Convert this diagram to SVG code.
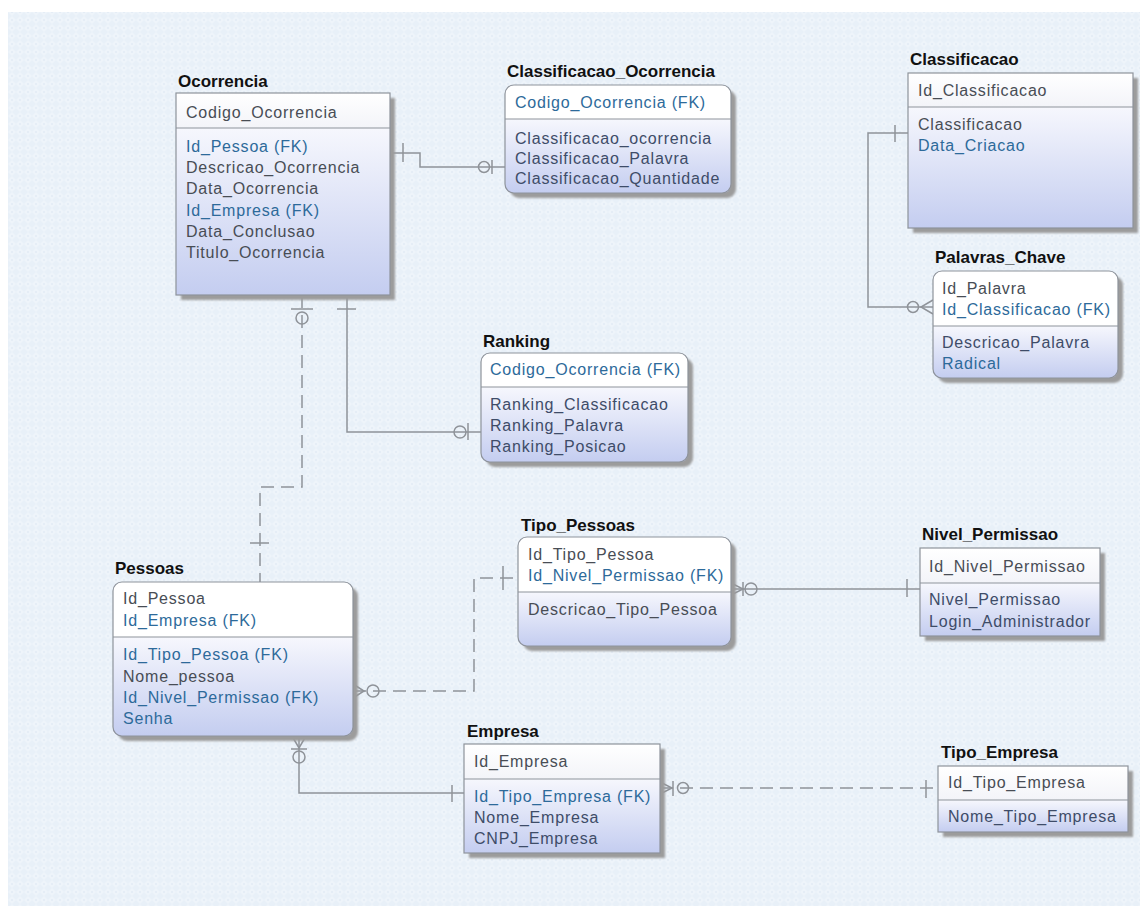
<svg xmlns="http://www.w3.org/2000/svg" width="1140" height="906" viewBox="0 0 1140 906">
  <defs>
    <pattern id="grid" width="8" height="8" patternUnits="userSpaceOnUse">
      <rect width="8" height="8" fill="#e8f0f8"/>
      <path d="M4 0 L8 4 L4 8 L0 4 Z" fill="#eef4fa"/>
      <circle cx="4" cy="4" r="1" fill="#e2ebf5"/>
    </pattern>
    <linearGradient id="body" x1="0" y1="0" x2="0" y2="1">
      <stop offset="0" stop-color="#f6f7fd"/>
      <stop offset="1" stop-color="#c4cdf0"/>
    </linearGradient>
    <linearGradient id="head" x1="0" y1="0" x2="0" y2="1">
      <stop offset="0" stop-color="#ffffff"/>
      <stop offset="1" stop-color="#f3f4f9"/>
    </linearGradient>
    <filter id="soft" x="-5%" y="-5%" width="110%" height="110%">
      <feGaussianBlur stdDeviation="1.2"/>
    </filter>
  </defs>
  <style>
    .title { font-family: "Liberation Sans", Arial, sans-serif; font-size: 17px; font-weight: bold; fill: #111111; }
    .attr { font-family: "Liberation Sans", Arial, sans-serif; font-size: 16px; letter-spacing: 0.8px; fill: #484d55; }
    .fk { fill: #2d6a9a; }
    .slate { fill: #3e4c68; }
    .shadow { fill: #9c9c9c; filter: url(#soft); }
    .edge { fill: none; stroke: #8e939b; stroke-width: 1.2; }
    .sep { stroke: #8e939b; stroke-width: 1.2; }
    .conn { fill: none; stroke: #8f9399; stroke-width: 1.5; }
    .dash { stroke-dasharray: 13 7; }
    .sym { fill: none; stroke: #8f9399; stroke-width: 1.5; }
  </style>

  <!-- canvas -->
  <rect width="1140" height="906" fill="#ffffff"/>
  <rect x="8" y="12" width="1132" height="894" fill="url(#grid)"/>

  <!-- relationships -->
  <g id="connectors">
    <!-- Ocorrencia - Classificacao_Ocorrencia -->
    <path class="conn" d="M390 153 H420 V167 H505"/>
    <path class="sym" d="M403 143 V162"/>
    <circle class="sym" cx="484" cy="167" r="5.5"/>
    <path class="sym" d="M492 160 V174"/>

    <!-- Classificacao - Palavras_Chave -->
    <path class="conn" d="M908 133 H868 V307 H933"/>
    <path class="sym" d="M895 125 V142"/>
    <circle class="sym" cx="913" cy="307" r="5.5"/>
    <path class="sym" d="M933 300 L921 307 L933 314"/>

    <!-- Ocorrencia - Ranking -->
    <path class="conn" d="M347 295 V432 H481"/>
    <path class="sym" d="M337 309 H356"/>
    <circle class="sym" cx="460" cy="432" r="6"/>
    <path class="sym" d="M468 423 V440"/>

    <!-- Pessoas - Ocorrencia -->
    <path class="conn dash" d="M302 295 V487 H260 V582"/>
    <path class="sym" d="M291 309 H313"/>
    <circle class="sym" cx="302" cy="318" r="6"/>
    <path class="sym" d="M250 543 H269"/>

    <!-- Tipo_Pessoas - Pessoas -->
    <path class="conn dash" d="M353 691 H474 V578 H518"/>
    <path class="sym" d="M353 684 L364 691 L353 698"/>
    <circle class="sym" cx="373" cy="691" r="6"/>
    <path class="sym" d="M503 566 V590"/>

    <!-- Nivel_Permissao - Tipo_Pessoas -->
    <path class="conn" d="M731 589 H920"/>
    <path class="sym" d="M731 583 L743 589 L731 595"/>
    <path class="sym" d="M743 582 V596"/>
    <circle class="sym" cx="751" cy="589" r="6"/>
    <path class="sym" d="M907 579 V597"/>

    <!-- Empresa - Pessoas -->
    <path class="conn" d="M299 736 V793 H464"/>
    <path class="sym" d="M292 736 L299 748 L306 736"/>
    <path class="sym" d="M291 749 H307"/>
    <circle class="sym" cx="299" cy="757" r="6"/>
    <path class="sym" d="M452 785 V802"/>

    <!-- Tipo_Empresa - Empresa -->
    <path class="conn dash" d="M660 788 H938"/>
    <path class="sym" d="M660 782 L672 788 L660 794"/>
    <path class="sym" d="M673 781 V796"/>
    <circle class="sym" cx="683" cy="788" r="5.5"/>
    <path class="sym" d="M926 780 V798"/>
  </g>

  <!-- Ocorrencia -->
  <g id="ocorrencia">
    <rect class="shadow" x="181" y="98" width="214" height="202"/>
    <rect x="176" y="93" width="214" height="35" fill="url(#head)"/>
    <rect x="176" y="128" width="214" height="167" fill="url(#body)"/>
    <rect class="edge" x="176" y="93" width="214" height="202"/>
    <line class="sep" x1="176" y1="128" x2="390" y2="128"/>
    <text class="title" x="178" y="87">Ocorrencia</text>
    <text class="attr" x="186" y="118">Codigo_Ocorrencia</text>
    <text class="attr fk" x="186" y="152">Id_Pessoa (FK)</text>
    <text class="attr" x="186" y="173">Descricao_Ocorrencia</text>
    <text class="attr" x="186" y="194">Data_Ocorrencia</text>
    <text class="attr fk" x="186" y="216">Id_Empresa (FK)</text>
    <text class="attr" x="186" y="237">Data_Conclusao</text>
    <text class="attr" x="186" y="258">Titulo_Ocorrencia</text>
  </g>

  <!-- Classificacao_Ocorrencia -->
  <g id="classificacao_ocorrencia">
    <rect class="shadow" x="510" y="90" width="226" height="108" rx="9"/>
    <rect x="505" y="85" width="226" height="108" rx="9" fill="#ffffff"/>
    <path d="M505 119 H731 V184 Q731 193 722 193 H514 Q505 193 505 184 Z" fill="url(#body)"/>
    <rect class="edge" x="505" y="85" width="226" height="108" rx="9"/>
    <line class="sep" x1="505" y1="119" x2="731" y2="119"/>
    <text class="title" x="507" y="77">Classificacao_Ocorrencia</text>
    <text class="attr fk" x="515" y="108">Codigo_Ocorrencia (FK)</text>
    <text class="attr slate" x="515" y="144">Classificacao_ocorrencia</text>
    <text class="attr slate" x="515" y="164">Classificacao_Palavra</text>
    <text class="attr slate" x="515" y="184">Classificacao_Quantidade</text>
  </g>

  <!-- Classificacao -->
  <g id="classificacao">
    <rect class="shadow" x="913" y="78" width="225" height="155"/>
    <rect x="908" y="73" width="225" height="34" fill="url(#head)"/>
    <rect x="908" y="107" width="225" height="121" fill="url(#body)"/>
    <rect class="edge" x="908" y="73" width="225" height="155"/>
    <line class="sep" x1="908" y1="107" x2="1133" y2="107"/>
    <text class="title" x="910" y="65">Classificacao</text>
    <text class="attr" x="918" y="96">Id_Classificacao</text>
    <text class="attr" x="918" y="130">Classificacao</text>
    <text class="attr fk" x="918" y="151">Data_Criacao</text>
  </g>

  <!-- Palavras_Chave -->
  <g id="palavras_chave">
    <rect class="shadow" x="938" y="276" width="185" height="107" rx="9"/>
    <rect x="933" y="271" width="185" height="107" rx="9" fill="#ffffff"/>
    <path d="M933 326 H1118 V369 Q1118 378 1109 378 H942 Q933 378 933 369 Z" fill="url(#body)"/>
    <rect class="edge" x="933" y="271" width="185" height="107" rx="9"/>
    <line class="sep" x1="933" y1="326" x2="1118" y2="326"/>
    <text class="title" x="935" y="263">Palavras_Chave</text>
    <text class="attr" x="942" y="294">Id_Palavra</text>
    <text class="attr fk" x="942" y="315">Id_Classificacao (FK)</text>
    <text class="attr slate" x="942" y="348">Descricao_Palavra</text>
    <text class="attr fk" x="942" y="369">Radical</text>
  </g>

  <!-- Ranking -->
  <g id="ranking">
    <rect class="shadow" x="486" y="358" width="207" height="109" rx="9"/>
    <rect x="481" y="353" width="207" height="109" rx="9" fill="#ffffff"/>
    <path d="M481 387 H688 V453 Q688 462 679 462 H490 Q481 462 481 453 Z" fill="url(#body)"/>
    <rect class="edge" x="481" y="353" width="207" height="109" rx="9"/>
    <line class="sep" x1="481" y1="387" x2="688" y2="387"/>
    <text class="title" x="483" y="347">Ranking</text>
    <text class="attr fk" x="490" y="375">Codigo_Ocorrencia (FK)</text>
    <text class="attr slate" x="490" y="410">Ranking_Classificacao</text>
    <text class="attr slate" x="490" y="431">Ranking_Palavra</text>
    <text class="attr slate" x="490" y="452">Ranking_Posicao</text>
  </g>

  <!-- Pessoas -->
  <g id="pessoas">
    <rect class="shadow" x="118" y="587" width="240" height="154" rx="9"/>
    <rect x="113" y="582" width="240" height="154" rx="9" fill="#ffffff"/>
    <path d="M113 637 H353 V727 Q353 736 344 736 H122 Q113 736 113 727 Z" fill="url(#body)"/>
    <rect class="edge" x="113" y="582" width="240" height="154" rx="9"/>
    <line class="sep" x1="113" y1="637" x2="353" y2="637"/>
    <text class="title" x="115" y="574">Pessoas</text>
    <text class="attr" x="123" y="604">Id_Pessoa</text>
    <text class="attr fk" x="123" y="626">Id_Empresa (FK)</text>
    <text class="attr fk" x="123" y="660">Id_Tipo_Pessoa (FK)</text>
    <text class="attr" x="123" y="682">Nome_pessoa</text>
    <text class="attr fk" x="123" y="703">Id_Nivel_Permissao (FK)</text>
    <text class="attr fk" x="123" y="724">Senha</text>
  </g>

  <!-- Tipo_Pessoas -->
  <g id="tipo_pessoas">
    <rect class="shadow" x="523" y="542" width="213" height="109" rx="9"/>
    <rect x="518" y="537" width="213" height="109" rx="9" fill="#ffffff"/>
    <path d="M518 592 H731 V637 Q731 646 722 646 H527 Q518 646 518 637 Z" fill="url(#body)"/>
    <rect class="edge" x="518" y="537" width="213" height="109" rx="9"/>
    <line class="sep" x1="518" y1="592" x2="731" y2="592"/>
    <text class="title" x="521" y="531">Tipo_Pessoas</text>
    <text class="attr" x="528" y="560">Id_Tipo_Pessoa</text>
    <text class="attr fk" x="528" y="581">Id_Nivel_Permissao (FK)</text>
    <text class="attr" x="528" y="615">Descricao_Tipo_Pessoa</text>
  </g>

  <!-- Nivel_Permissao -->
  <g id="nivel_permissao">
    <rect class="shadow" x="925" y="553" width="180" height="88"/>
    <rect x="920" y="548" width="180" height="35" fill="url(#head)"/>
    <rect x="920" y="583" width="180" height="53" fill="url(#body)"/>
    <rect class="edge" x="920" y="548" width="180" height="88"/>
    <line class="sep" x1="920" y1="583" x2="1100" y2="583"/>
    <text class="title" x="922" y="540">Nivel_Permissao</text>
    <text class="attr" x="929" y="572">Id_Nivel_Permissao</text>
    <text class="attr slate" x="929" y="605">Nivel_Permissao</text>
    <text class="attr slate" x="929" y="627">Login_Administrador</text>
  </g>

  <!-- Empresa -->
  <g id="empresa">
    <rect class="shadow" x="469" y="749" width="196" height="109"/>
    <rect x="464" y="744" width="196" height="35" fill="url(#head)"/>
    <rect x="464" y="779" width="196" height="74" fill="url(#body)"/>
    <rect class="edge" x="464" y="744" width="196" height="109"/>
    <line class="sep" x1="464" y1="779" x2="660" y2="779"/>
    <text class="title" x="467" y="737">Empresa</text>
    <text class="attr" x="474" y="767">Id_Empresa</text>
    <text class="attr fk" x="474" y="802">Id_Tipo_Empresa (FK)</text>
    <text class="attr slate" x="474" y="823">Nome_Empresa</text>
    <text class="attr slate" x="474" y="844">CNPJ_Empresa</text>
  </g>

  <!-- Tipo_Empresa -->
  <g id="tipo_empresa">
    <rect class="shadow" x="943" y="771" width="190" height="66"/>
    <rect x="938" y="766" width="190" height="34" fill="url(#head)"/>
    <rect x="938" y="800" width="190" height="32" fill="url(#body)"/>
    <rect class="edge" x="938" y="766" width="190" height="66"/>
    <line class="sep" x1="938" y1="800" x2="1128" y2="800"/>
    <text class="title" x="941" y="758">Tipo_Empresa</text>
    <text class="attr" x="948" y="788">Id_Tipo_Empresa</text>
    <text class="attr slate" x="948" y="822">Nome_Tipo_Empresa</text>
  </g>
</svg>
